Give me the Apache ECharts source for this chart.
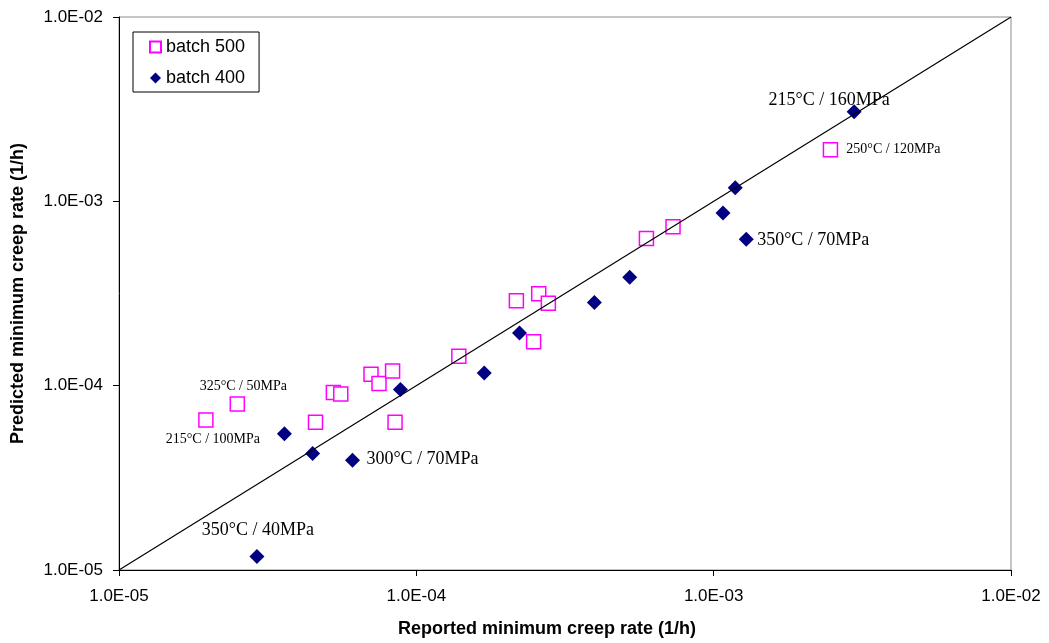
<!DOCTYPE html>
<html>
<head>
<meta charset="utf-8">
<script src="https://cdn.jsdelivr.net/npm/echarts@6/dist/echarts.min.js"></script>
<style>
html,body{margin:0;padding:0;background:#fff;}
#chart{width:1049px;height:643px;}
</style>
</head>
<body>
<div id="chart"></div>
<script>
// ---- data ----
const batch500X = [1.96e-5, 2.5e-5, 4.58e-5, 5.26e-5, 5.57e-5, 7.04e-5, 7.49e-5, 8.32e-5, 8.48e-5, 1.39e-4, 2.17e-4, 2.58e-4, 2.78e-4, 2.48e-4, 5.94e-4, 7.30e-4, 2.47e-3];
const batch500Y = [6.52e-5, 7.96e-5, 6.34e-5, 9.18e-5, 9.02e-5, 1.153e-4, 1.027e-4, 1.201e-4, 6.34e-5, 1.443e-4, 2.89e-4, 3.15e-4, 2.80e-4, 1.73e-4, 6.28e-4, 7.27e-4, 1.905e-3];
const batch400X = [2.91e-5, 3.60e-5, 4.48e-5, 6.10e-5, 8.84e-5, 1.692e-4, 2.223e-4, 3.97e-4, 5.22e-4, 1.075e-3, 1.182e-3, 1.287e-3, 2.967e-3];
const batch400Y = [1.182e-5, 5.48e-5, 4.29e-5, 3.94e-5, 9.53e-5, 1.172e-4, 1.929e-4, 2.827e-4, 3.87e-4, 8.65e-4, 1.186e-3, 6.23e-4, 3.06e-3];
const lineX = [1e-5, 1e-2];
const lineY = [1e-5, 1e-2];
const axisTicks = [1e-5, 1e-4, 1e-3, 1e-2];
const seriesNames = ['batch 500', 'batch 400'];
const xTitle = 'Reported minimum creep rate (1/h)';
const yTitle = 'Predicted minimum creep rate (1/h)';
// annotation texts: [series index, point index, text]
const annoSeries = [1, 0, 1, 1, 0, 0, 1];
const annoPoint  = [12, 16, 11, 3, 1, 0, 0];
const annoText   = ['215°C / 160MPa', '250°C / 120MPa', '350°C / 70MPa', '300°C / 70MPa', '325°C / 50MPa', '215°C / 100MPa', '350°C / 40MPa'];

// ---- layout / style (kept separate from data) ----
const annoOffset = [[-25, -12], [63, 0], [67, 1], [70, -1], [6, -18], [7, 19], [1, -26]];
const annoSize   = [18, 14, 18, 18, 14, 14, 18];

function fmt(v) {
  const e = Math.round(Math.log10(v));
  const m = v / Math.pow(10, e);
  return m.toFixed(1) + 'E' + (e < 0 ? '-' : '+') + String(Math.abs(e)).padStart(2, '0');
}

function buildData(xs, ys, sIdx) {
  return xs.map((x, i) => {
    const item = { value: [x, ys[i]] };
    for (let k = 0; k < annoText.length; k++) {
      if (annoSeries[k] === sIdx && annoPoint[k] === i) {
        item.label = {
          show: true,
          position: 'inside',
          offset: annoOffset[k],
          formatter: annoText[k],
          fontFamily: 'Liberation Serif',
          fontSize: annoSize[k],
          color: '#000',
          align: 'center',
          verticalAlign: 'middle'
        };
      }
    }
    return item;
  });
}

const chart = echarts.init(document.getElementById('chart'), null, { renderer: 'canvas' });
const axisCommon = {
  type: 'log',
  logBase: 10,
  min: axisTicks[0],
  max: axisTicks[axisTicks.length - 1],
  axisLine: { show: true, lineStyle: { color: '#000', width: 1 } },
  axisTick: { show: true, inside: false, length: 6, lineStyle: { color: '#000' } },
  minorTick: { show: false },
  splitLine: { show: false },
  axisLabel: { formatter: fmt, fontFamily: 'Liberation Sans', fontSize: 17, color: '#000' },
  nameLocation: 'middle',
  nameTextStyle: { fontFamily: 'Liberation Sans', fontWeight: 'bold', fontSize: 18, color: '#000' }
};

chart.setOption({
  animation: false,
  backgroundColor: '#fff',
  grid: { left: 119, right: 38, top: 17, bottom: 72, show: true, borderColor: '#8c8c8c', borderWidth: 1, backgroundColor: 'transparent' },
  legend: {
    orient: 'vertical',
    left: 133,
    top: 32,
    data: seriesNames,
    backgroundColor: '#fff',
    borderColor: '#000',
    borderWidth: 1,
    borderRadius: 0,
    padding: [5, 14, 4, 16],
    itemWidth: 11,
    itemHeight: 11,
    itemGap: 11,
    textStyle: { fontFamily: 'Liberation Sans', fontSize: 18, color: '#000', lineHeight: 20 }
  },
  xAxis: Object.assign({}, axisCommon, {
    name: xTitle,
    nameGap: 50,
    axisLabel: Object.assign({}, axisCommon.axisLabel, { margin: 18 }),
    nameTextStyle: Object.assign({}, axisCommon.nameTextStyle, { padding: [0, 36, 0, 0] })
  }),
  yAxis: Object.assign({}, axisCommon, {
    name: yTitle,
    nameGap: 92,
    axisLabel: Object.assign({}, axisCommon.axisLabel, { margin: 16 })
  }),
  series: [
    {
      name: seriesNames[0],
      type: 'scatter',
      symbol: 'rect',
      symbolSize: 14,
      itemStyle: { color: '#fff', borderColor: '#ff00ff', borderWidth: 1.5, opacity: 1 },
      data: buildData(batch500X, batch500Y, 0),
      z: 3
    },
    {
      name: seriesNames[1],
      type: 'scatter',
      symbol: 'diamond',
      symbolSize: 15,
      itemStyle: { color: '#000080', opacity: 1 },
      data: buildData(batch400X, batch400Y, 1),
      z: 3
    },
    {
      name: 'y = x',
      type: 'line',
      data: lineX.map((x, i) => [x, lineY[i]]),
      symbol: 'none',
      lineStyle: { color: '#000', width: 1.2 },
      silent: true,
      z: 4
    }
  ]
});
</script>
</body>
</html>
